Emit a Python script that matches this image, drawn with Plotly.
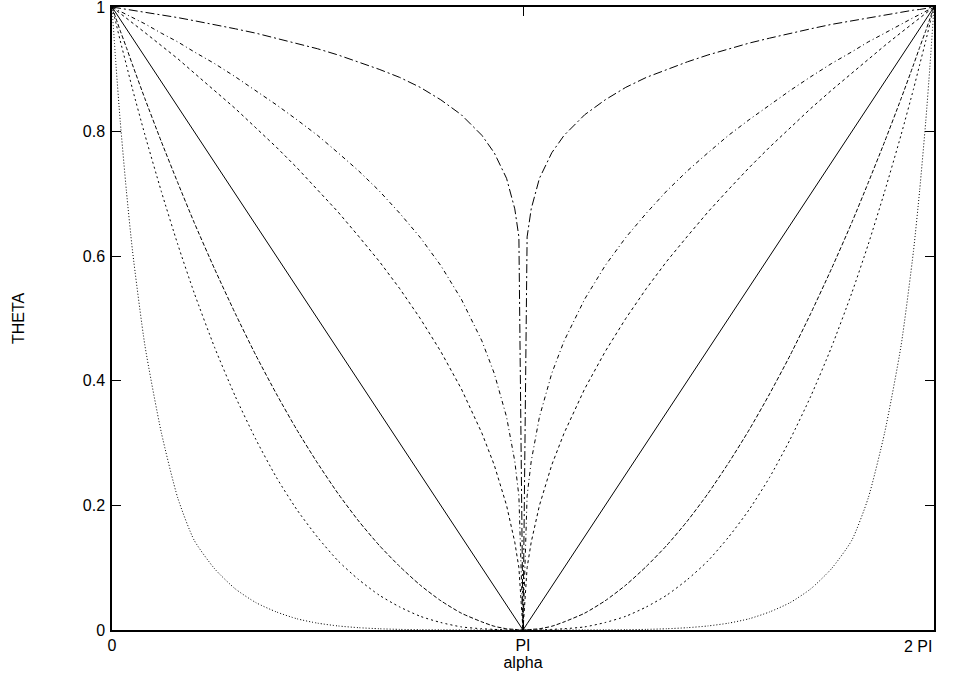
import plotly.graph_objects as go

# alpha in units of PI
alpha_left = [0, 0.01, 0.02, 0.035, 0.05, 0.08, 0.12, 0.16, 0.2, 0.25, 0.3, 0.35, 0.4, 0.45,
              0.5, 0.55, 0.6, 0.65, 0.7, 0.75, 0.8, 0.85, 0.9, 0.93, 0.96, 0.98, 0.99, 1.0]
alpha_right = [1.01, 1.02, 1.04, 1.07, 1.1, 1.15, 1.2, 1.25, 1.3, 1.35, 1.4, 1.45, 1.5, 1.55,
               1.6, 1.65, 1.7, 1.75, 1.8, 1.84, 1.88, 1.92, 1.95, 1.965, 1.98, 1.99, 2.0]

# THETA curves
c1_left = [1, 0.999, 0.998, 0.996, 0.995, 0.992, 0.987, 0.983, 0.978, 0.972, 0.965, 0.958, 0.950, 0.942,
           0.933, 0.923, 0.912, 0.900, 0.887, 0.871, 0.851, 0.827, 0.794, 0.766, 0.725, 0.676, 0.631, 0]
c1_right = [0.631, 0.676, 0.725, 0.766, 0.794, 0.827, 0.851, 0.871, 0.887, 0.900, 0.912, 0.923, 0.933, 0.942,
            0.950, 0.958, 0.965, 0.972, 0.978, 0.983, 0.987, 0.992, 0.995, 0.996, 0.998, 0.999, 1]

c2_left = [1, 0.997, 0.993, 0.988, 0.983, 0.973, 0.958, 0.944, 0.928, 0.909, 0.888, 0.866, 0.843, 0.819,
           0.794, 0.766, 0.737, 0.705, 0.669, 0.630, 0.585, 0.531, 0.464, 0.412, 0.342, 0.271, 0.215, 0]
c2_right = [0.215, 0.271, 0.342, 0.412, 0.464, 0.531, 0.585, 0.630, 0.669, 0.705, 0.737, 0.766, 0.794, 0.819,
            0.843, 0.866, 0.888, 0.909, 0.928, 0.944, 0.958, 0.973, 0.983, 0.988, 0.993, 0.997, 1]

c3_left = [1, 0.995, 0.990, 0.982, 0.975, 0.959, 0.938, 0.917, 0.894, 0.866, 0.837, 0.806, 0.775, 0.742,
           0.707, 0.671, 0.632, 0.592, 0.548, 0.500, 0.447, 0.387, 0.316, 0.265, 0.200, 0.141, 0.100, 0]
c3_right = [0.100, 0.141, 0.200, 0.265, 0.316, 0.387, 0.447, 0.500, 0.548, 0.592, 0.632, 0.671, 0.707, 0.742,
            0.775, 0.806, 0.837, 0.866, 0.894, 0.917, 0.938, 0.959, 0.975, 0.982, 0.990, 0.995, 1]

c4_left = [1, 0.99, 0.98, 0.965, 0.95, 0.92, 0.88, 0.84, 0.8, 0.75, 0.7, 0.65, 0.6, 0.55,
           0.5, 0.45, 0.4, 0.35, 0.3, 0.25, 0.2, 0.15, 0.1, 0.07, 0.04, 0.02, 0.01, 0]
c4_right = [0.01, 0.02, 0.04, 0.07, 0.1, 0.15, 0.2, 0.25, 0.3, 0.35, 0.4, 0.45, 0.5, 0.55,
            0.6, 0.65, 0.7, 0.75, 0.8, 0.84, 0.88, 0.92, 0.95, 0.965, 0.98, 0.99, 1]

c5_left = [1, 0.981, 0.962, 0.935, 0.907, 0.853, 0.784, 0.718, 0.654, 0.579, 0.508, 0.441, 0.379, 0.321,
           0.268, 0.219, 0.175, 0.136, 0.102, 0.072, 0.047, 0.027, 0.013, 0.006, 0.002, 0.001, 0.0002, 0]
c5_right = [0.0002, 0.001, 0.002, 0.006, 0.013, 0.027, 0.047, 0.072, 0.102, 0.136, 0.175, 0.219, 0.268, 0.321,
            0.379, 0.441, 0.508, 0.579, 0.654, 0.718, 0.784, 0.853, 0.907, 0.935, 0.962, 0.981, 1]

c6_left = [1, 0.973, 0.946, 0.907, 0.868, 0.795, 0.704, 0.619, 0.541, 0.453, 0.375, 0.306, 0.245, 0.193,
           0.149, 0.111, 0.081, 0.056, 0.037, 0.022, 0.012, 0.005, 0.002, 0.001, 0.0001, 0, 0, 0]
c6_right = [0, 0, 0.0001, 0.001, 0.002, 0.005, 0.012, 0.022, 0.037, 0.056, 0.081, 0.111, 0.149, 0.193,
            0.245, 0.306, 0.375, 0.453, 0.541, 0.619, 0.704, 0.795, 0.868, 0.907, 0.946, 0.973, 1]

c7_left = [1, 0.904, 0.817, 0.705, 0.608, 0.457, 0.317, 0.212, 0.144, 0.098, 0.066, 0.044, 0.029, 0.018,
           0.011, 0.0065, 0.0037, 0.002, 0.001, 0.0005, 0.0002, 0.0001, 0, 0, 0, 0, 0, 0]
c7_right = [0, 0, 0, 0, 0, 0.0001, 0.0002, 0.0005, 0.001, 0.002, 0.0037, 0.0065, 0.011, 0.018,
            0.029, 0.044, 0.066, 0.098, 0.144, 0.212, 0.317, 0.457, 0.608, 0.705, 0.817, 0.904, 1]

x_tickvals = [0, 1, 2]
x_ticktext = ["0", "PI", ""]
x_last_label = "2 PI"
y_tickvals = [0, 0.2, 0.4, 0.6, 0.8, 1]
y_ticktext = ["0", "0.2", "0.4", "0.6", "0.8", "1"]

alpha = alpha_left + alpha_right
series = [
    (c1_left + c1_right, "9px,3px,2px,3px", "linear"),
    (c2_left + c2_right, "4px,3px,1px,3px", "linear"),
    (c3_left + c3_right, "3px,3px", "linear"),
    (c4_left + c4_right, "solid", "linear"),
    (c5_left + c5_right, "4px,2px", "spline"),
    (c6_left + c6_right, "2px,3px", "spline"),
    (c7_left + c7_right, "1px,2px", "spline"),
]

fig = go.Figure()
for ys, dash, shape in series:
    line = dict(color="black", width=1, dash=dash, shape=shape)
    if shape == "spline":
        line["smoothing"] = 0.6
    fig.add_trace(go.Scatter(x=alpha, y=ys, mode="lines", line=line,
                             showlegend=False, hoverinfo="skip"))

FONT = "Liberation Sans, Arial, sans-serif"
axis_common = dict(showgrid=False, zeroline=False, showline=True, linecolor="black",
                   linewidth=1.5, mirror="ticks", ticks="inside", ticklen=9,
                   tickcolor="black", tickwidth=1, automargin=False,
                   ticklabeloverflow="allow",
                   tickfont=dict(family=FONT, size=16, color="black"))

fig.add_annotation(x=x_tickvals[-1], y=0, xref="x", yref="paper",
                   text=x_last_label, showarrow=False, xanchor="right", yanchor="top",
                   yshift=-6, font=dict(family=FONT, size=16, color="black"))

fig.update_layout(
    width=954, height=686,
    margin=dict(l=112, r=20, t=7, b=56),
    paper_bgcolor="white", plot_bgcolor="white",
    font=dict(family=FONT, size=16, color="black"),
    xaxis=dict(range=[0, 2], tickvals=x_tickvals, ticktext=x_ticktext,
               title=dict(text="alpha", standoff=0, font=dict(family=FONT, size=16)),
               **axis_common),
    yaxis=dict(range=[0, 1], tickvals=y_tickvals, ticktext=y_ticktext,
               ticklabelstandoff=2,
               title=dict(text="THETA", standoff=54, font=dict(family=FONT, size=16)),
               **axis_common),
)

fig.write_html("out.html", config={"displayModeBar": False},
               post_script="document.body.style.margin='0px';")
